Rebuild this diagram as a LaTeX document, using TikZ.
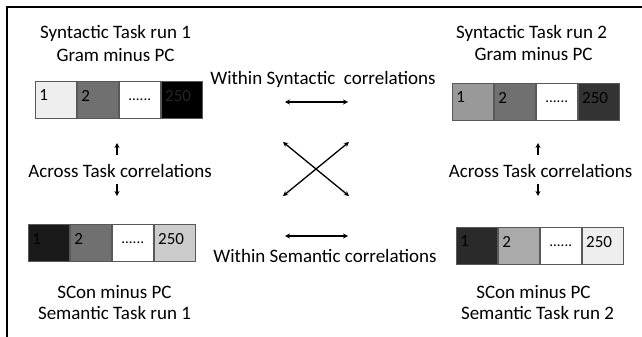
\documentclass[tikz,border=0pt]{standalone}
\usepackage{fontspec}
\setmainfont{Carlito}
\usetikzlibrary{arrows.meta}
\definecolor{cA}{HTML}{EEEEEE}
\definecolor{cB}{HTML}{707070}
\definecolor{cC}{HTML}{999999}
\definecolor{cD}{HTML}{333333}
\definecolor{cE}{HTML}{1A1A1A}
\definecolor{cF}{HTML}{CCCCCC}
\definecolor{cG}{HTML}{2A2A2A}
\definecolor{cH}{HTML}{AAAAAA}
\tikzset{
  cell/.style={draw=black!65, line width=0.9pt, minimum width=41pt, minimum height=37pt,
    text width=33pt, inner xsep=4pt, inner ysep=0pt, align=left, anchor=west,
    text depth=8pt, font=\fontsize{17}{20}\selectfont},
  dotcell/.style={cell, align=center, text depth=0pt, font=\fontsize{15}{18}\selectfont},
  title/.style={font=\fontsize{19}{22}\selectfont, anchor=base},
  lab/.style={font=\fontsize{19}{22}\selectfont, anchor=base},
  arr/.style={line width=1.3pt, -{Stealth[length=5pt,width=5pt]}},
  darr/.style={line width=1.3pt, {Stealth[length=5pt,width=5pt]}-{Stealth[length=5pt,width=5pt]}}
}
\begin{document}
\begin{tikzpicture}[x=1pt,y=-1pt]
\useasboundingbox (0,0) rectangle (642,337);
\draw[line width=2pt] (7,337) -- (7,7) -- (642,7);
% top-left bar
\node[cell, fill=cA] (a1) at (35,99.5) {1};
\node[cell, fill=cB] (a2) at (a1.east) {2};
\node[dotcell, fill=white] (a3) at (a2.east) {......};
\node[cell, fill=black, text=black!85!white] (a4) at (a3.east) {250};
% top-right bar
\node[cell, fill=cC] (b1) at (452,101.5) {1};
\node[cell, fill=cB] (b2) at (b1.east) {2};
\node[dotcell, fill=white] (b3) at (b2.east) {......};
\node[cell, fill=cD] (b4) at (b3.east) {250};
% bottom-left bar
\node[cell, fill=cE] (c1) at (28,243) {1};
\node[cell, fill=cB] (c2) at (c1.east) {2};
\node[dotcell, fill=white] (c3) at (c2.east) {......};
\node[cell, fill=cF] (c4) at (c3.east) {250};
% bottom-right bar
\node[cell, fill=cG] (d1) at (456,245.5) {1};
\node[cell, fill=cH] (d2) at (d1.east) {2};
\node[dotcell, fill=white] (d3) at (d2.east) {......};
\node[cell, fill=cA] (d4) at (d3.east) {250};
% titles
\node[title] (ta1) at (115.5,39) {Syntactic Task run 1};
\node[title] (ta2) at (115.5,61) {Gram minus PC};
\node[title] (tb1) at (531.5,38) {Syntactic Task run 2};
\node[title] (tb2) at (533.5,60) {Gram minus PC};
\node[title] (tc1) at (114.5,298) {SCon minus PC};
\node[title] (tc2) at (114.5,319) {Semantic Task run 1};
\node[title] (td1) at (533.5,298) {SCon minus PC};
\node[title] (td2) at (537.5,319) {Semantic Task run 2};
% labels
\node[lab] (ws) at (323,84) {Within Syntactic\ \ correlations};
\node[lab] (wm) at (325,262) {Within Semantic correlations};
\node[lab] (al) at (120,177) {Across Task correlations};
\node[lab] (ar) at (540.5,177) {Across Task correlations};
% arrow coordinates
\coordinate (s1) at (285,102); \coordinate (s2) at (348,102);
\coordinate (m1) at (285,236); \coordinate (m2) at (348,236);
\coordinate (x1) at (283,142); \coordinate (x2) at (349,196);
\coordinate (x3) at (349,142); \coordinate (x4) at (283,196);
\coordinate (u1t) at (117,155); \coordinate (u1h) at (117,143);
\coordinate (v1t) at (117,184); \coordinate (v1h) at (117,196);
\coordinate (u2t) at (538,155); \coordinate (u2h) at (538,143);
\coordinate (v2t) at (538,184); \coordinate (v2h) at (538,196);
\draw[darr] (s1) -- (s2);
\draw[darr] (m1) -- (m2);
\draw[darr] (x1) -- (x2);
\draw[darr] (x3) -- (x4);
\draw[arr] (u1t) -- (u1h);
\draw[arr] (v1t) -- (v1h);
\draw[arr] (u2t) -- (u2h);
\draw[arr] (v2t) -- (v2h);
\end{tikzpicture}
\end{document}
